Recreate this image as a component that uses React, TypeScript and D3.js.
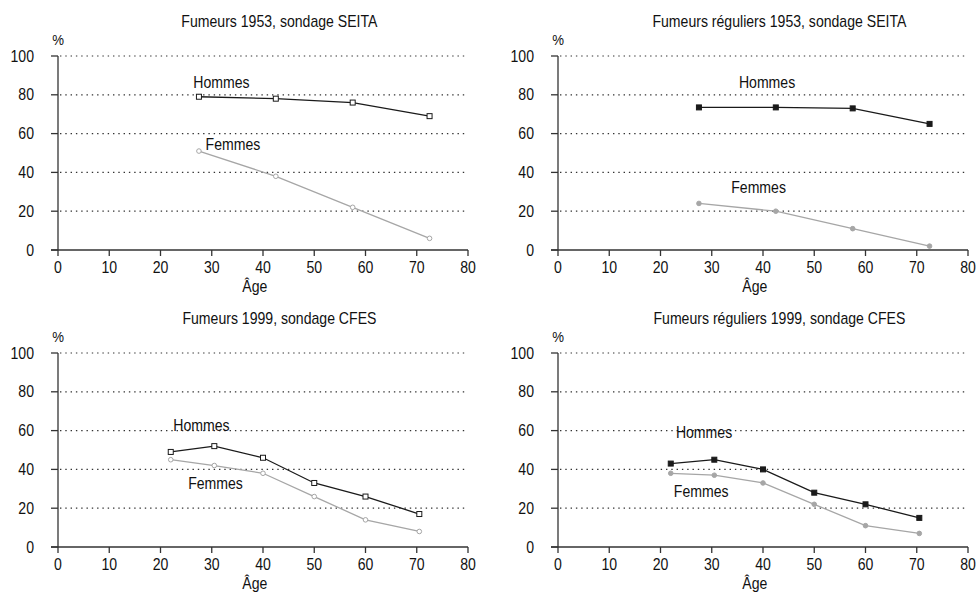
import React from "react";
import * as d3 from "d3";

// ages (midpoints of age classes)
const agesSeita = [27.5, 42.5, 57.5, 72.5];
const agesCfes = [22, 30.5, 40, 50, 60, 70.5];

// % de fumeurs
const hommes1953 = [79, 78, 76, 69];
const femmes1953 = [51, 38, 22, 6];
const hommesReg1953 = [73.5, 73.5, 73, 65];
const femmesReg1953 = [24, 20, 11, 2];
const hommes1999 = [49, 52, 46, 33, 26, 17];
const femmes1999 = [45, 42, 38, 26, 14, 8];
const hommesReg1999 = [43, 45, 40, 28, 22, 15];
const femmesReg1999 = [38, 37, 33, 22, 11, 7];

const xTicks = [0, 10, 20, 30, 40, 50, 60, 70, 80];
const yTicks = [0, 20, 40, 60, 80, 100];

const FONT = "'Liberation Sans', Arial, sans-serif";
const MEN = "#1a1a1a";
const WOMEN = "#a6a6a6";
const AXIS = "#333";

type PanelDef = {
  title: string;
  ages: number[];
  men: number[];
  women: number[];
  filled: boolean;
  left: number;
  top: number;
  menLabel: [number, number];
  womenLabel: [number, number];
};

const panels: PanelDef[] = [
  { title: "Fumeurs 1953, sondage SEITA", ages: agesSeita, men: hommes1953, women: femmes1953, filled: false,
    left: 58, top: 56, menLabel: [26.4, 83.5], womenLabel: [28.8, 51.5] },
  { title: "Fumeurs réguliers 1953, sondage SEITA", ages: agesSeita, men: hommesReg1953, women: femmesReg1953, filled: true,
    left: 558, top: 56, menLabel: [35.3, 83.5], womenLabel: [33.8, 29.4] },
  { title: "Fumeurs 1999, sondage CFES", ages: agesCfes, men: hommes1999, women: femmes1999, filled: false,
    left: 58, top: 353, menLabel: [22.5, 60], womenLabel: [25.4, 29.7] },
  { title: "Fumeurs réguliers 1999, sondage CFES", ages: agesCfes, men: hommesReg1999, women: femmesReg1999, filled: true,
    left: 558, top: 353, menLabel: [23, 56.4], womenLabel: [22.6, 25.6] },
];

const W = 410;
const H = 194;

// condensed text: Arial metrics squeezed horizontally
function Txt({ x, y, anchor = "start", size = 16, children }:
  { x: number; y: number; anchor?: string; size?: number; children: React.ReactNode }) {
  return (
    <text transform={`translate(${x},${y}) scale(0.88,1)`} textAnchor={anchor}
      fontSize={size} fill="#111">{children}</text>
  );
}

function Panel({ p }: { p: PanelDef }) {
  const x = d3.scaleLinear().domain([0, 80]).range([0, W]);
  const y = d3.scaleLinear().domain([0, 100]).range([H, 0]);
  const line = d3.line<number>().x((_, i) => x(p.ages[i])).y(d => y(d));
  return (
    <g transform={`translate(${p.left},${p.top})`} fontFamily={FONT}>
      <Txt x={W * 0.54} y={-29} anchor="middle">{p.title}</Txt>
      <Txt x={0} y={-11} anchor="middle" size={15}>%</Txt>
      {yTicks.map(t => (
        <g key={t} transform={`translate(0,${y(t)})`}>
          {t > 0 && <line x1={2} x2={W} stroke="#333" strokeWidth={1.2} strokeDasharray="1.4,3.9" />}
          <line x1={-7} x2={0} stroke={AXIS} strokeWidth={1.3} />
          <Txt x={-24} y={5.5} anchor="end">{t}</Txt>
        </g>
      ))}
      {xTicks.map(t => (
        <g key={t} transform={`translate(${x(t)},${H})`}>
          <line y1={0} y2={6} stroke={AXIS} strokeWidth={1.3} />
          <Txt x={0} y={23} anchor="middle">{t}</Txt>
        </g>
      ))}
      <line x1={0} x2={0} y1={0} y2={H} stroke={AXIS} strokeWidth={1.3} />
      <line x1={-7} x2={W} y1={H} y2={H} stroke={AXIS} strokeWidth={1.3} />
      <Txt x={x(38.4)} y={H + 42} anchor="middle">Âge</Txt>

      <path d={line(p.women) || ""} fill="none" stroke={WOMEN} strokeWidth={1.3} />
      {p.women.map((v, i) => (
        <circle key={i} cx={x(p.ages[i])} cy={y(v)} r={2.3}
          fill={p.filled ? WOMEN : "#fff"} stroke={WOMEN} strokeWidth={1} />
      ))}
      <path d={line(p.men) || ""} fill="none" stroke={MEN} strokeWidth={1.3} />
      {p.men.map((v, i) => (
        <rect key={i} x={x(p.ages[i]) - 2.5} y={y(v) - 2.5} width={5} height={5}
          fill={p.filled ? MEN : "#fff"} stroke={MEN} strokeWidth={1} />
      ))}

      <Txt x={x(p.menLabel[0])} y={y(p.menLabel[1])}>Hommes</Txt>
      <Txt x={x(p.womenLabel[0])} y={y(p.womenLabel[1])}>Femmes</Txt>
    </g>
  );
}

export default function App() {
  return (
    <svg width={977} height={592} style={{ position: "absolute", left: 0, top: 0, background: "#fff" }}>
      <rect width={977} height={592} fill="#fff" />
      {panels.map(p => <Panel key={p.title} p={p} />)}
    </svg>
  );
}
